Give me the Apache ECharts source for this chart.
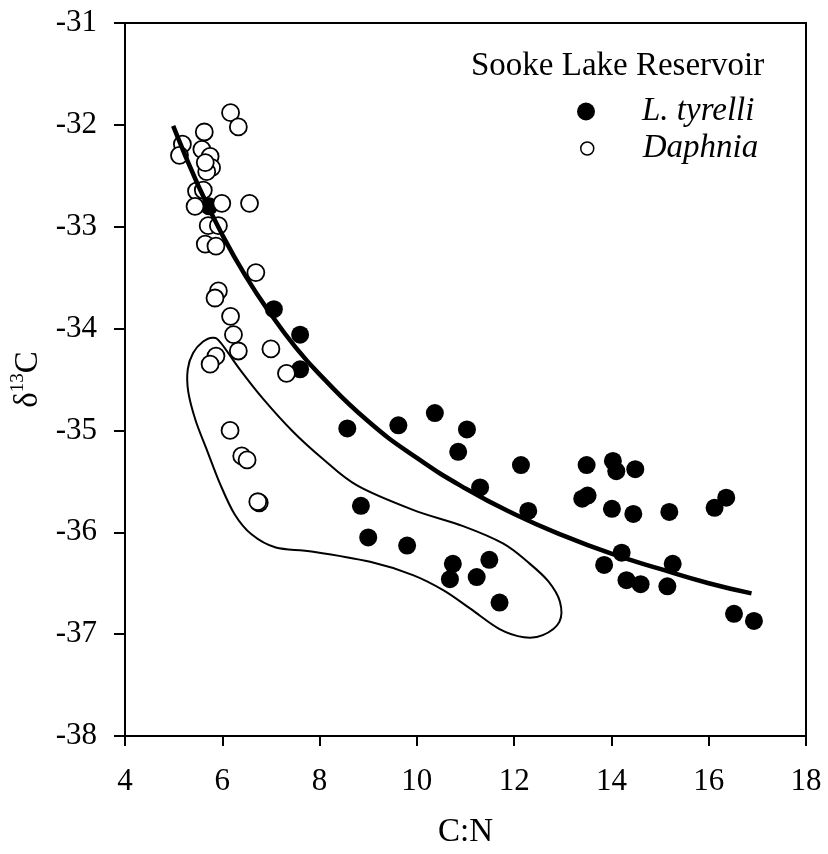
<!DOCTYPE html>
<html>
<head>
<meta charset="utf-8">
<script src="https://cdn.jsdelivr.net/npm/echarts@6/dist/echarts.min.js"></script>
<style>
html,body{margin:0;padding:0;background:#fff;}
#chart{width:828px;height:854px;}
</style>
</head>
<body>
<div id="chart"></div>
<script>
// L. tyrelli (filled circles): [C:N, d13C]
const tyrelli = [
  [5.73,-32.80],[7.06,-33.81],[7.60,-34.06],[7.60,-34.40],[8.57,-34.98],
  [9.62,-34.95],[8.85,-35.74],[9.00,-36.05],[10.37,-34.83],[11.03,-34.99],
  [10.85,-35.21],[12.14,-35.34],[11.30,-35.56],[12.29,-35.79],[9.80,-36.13],
  [10.74,-36.31],[11.49,-36.27],[10.68,-36.46],[11.23,-36.44],[11.70,-36.69],
  [13.49,-35.34],[14.03,-35.30],[14.10,-35.40],[14.49,-35.38],[13.40,-35.67],
  [13.51,-35.64],[14.01,-35.77],[14.45,-35.82],[15.19,-35.80],[16.12,-35.76],
  [16.36,-35.66],[14.21,-36.20],[13.85,-36.32],[15.26,-36.31],[14.31,-36.47],
  [14.60,-36.51],[15.15,-36.53],[16.52,-36.80],[16.93,-36.87]
];
// Daphnia (open circles)
const daphnia = [
  [6.17,-31.88],[6.33,-32.02],[5.63,-32.07],[5.18,-32.19],[5.12,-32.30],
  [5.58,-32.24],[5.75,-32.31],[5.78,-32.42],[5.68,-32.46],[5.65,-32.37],
  [5.47,-32.65],[5.61,-32.64],[5.44,-32.80],[5.99,-32.77],[6.56,-32.77],
  [5.71,-32.99],[5.92,-32.99],[5.65,-33.17],[5.87,-33.19],[6.69,-33.45],
  [5.92,-33.63],[5.85,-33.70],[6.17,-33.88],[6.23,-34.06],[7.00,-34.20],
  [6.33,-34.22],[5.87,-34.27],[5.75,-34.35],[7.32,-34.44],[6.16,-35.00],
  [6.40,-35.25],[6.51,-35.29],[6.76,-35.71],[6.73,-35.70]
];
// fitted curve
const fitCurve = [
  [4.99,-32.01],[5.5,-32.59],[6.0,-33.08],[6.5,-33.50],[7.0,-33.86],[7.5,-34.18],
  [8.0,-34.45],[9.0,-34.91],[10.0,-35.27],[11.0,-35.57],[12.0,-35.82],[13.0,-36.03],
  [14.0,-36.21],[15.0,-36.36],[16.0,-36.50],[16.88,-36.60]
];
// hand-drawn closed enclosure outline
const outline = [
  [5.60,-34.13],[5.81,-34.09],[5.97,-34.14],[6.36,-34.40],[6.84,-34.69],
  [7.45,-35.01],[8.07,-35.28],[8.77,-35.54],[9.92,-35.78],[10.95,-35.94],
  [11.77,-36.11],[12.30,-36.30],[12.70,-36.48],[12.94,-36.68],[12.93,-36.88],
  [12.59,-37.01],[12.20,-37.03],[11.70,-36.95],[11.10,-36.75],[10.55,-36.57],
  [9.92,-36.42],[9.04,-36.29],[7.87,-36.19],[7.10,-36.15],[6.60,-36.02],
  [6.25,-35.82],[5.95,-35.52],[5.69,-35.20],[5.45,-34.90],[5.30,-34.62],
  [5.29,-34.40],[5.40,-34.24]
];
const xRange = {min: 4, max: 18, interval: 2};
const yRange = {min: -38, max: -31, interval: 1};
const titleText = 'Sooke Lake Reservoir';
const seriesNames = ['L. tyrelli', 'Daphnia'];

const FONT = '"Liberation Serif","Times New Roman",serif';

function closedSplinePath(pts) {
  const n = pts.length;
  let d = 'M' + pts[0][0] + ' ' + pts[0][1];
  for (let i = 0; i < n; i++) {
    const p0 = pts[(i - 1 + n) % n], p1 = pts[i], p2 = pts[(i + 1) % n], p3 = pts[(i + 2) % n];
    const c1x = p1[0] + (p2[0] - p0[0]) / 6, c1y = p1[1] + (p2[1] - p0[1]) / 6;
    const c2x = p2[0] - (p3[0] - p1[0]) / 6, c2y = p2[1] - (p3[1] - p1[1]) / 6;
    d += ' C' + c1x + ' ' + c1y + ' ' + c2x + ' ' + c2y + ' ' + p2[0] + ' ' + p2[1];
  }
  return d + ' Z';
}

const chart = echarts.init(document.getElementById('chart'), null, {renderer: 'canvas'});
chart.setOption({
  animation: false,
  backgroundColor: '#fff',
  title: {
    text: titleText, left: 471, top: 50, padding: 0,
    textStyle: {fontFamily: FONT, fontSize: 33, fontWeight: 'normal', color: '#000'}
  },
  legend: [
    {
      data: [{name: seriesNames[0], icon: 'circle'}],
      left: 577, top: 95, padding: 0, itemWidth: 18, itemHeight: 18,
      selectedMode: false,
      textStyle: {fontFamily: FONT, fontSize: 33, fontStyle: 'italic', color: '#000', padding: [0, 0, 0, 42]}
    },
    {
      data: [{name: seriesNames[1], icon: 'circle'}],
      left: 580, top: 132, padding: 0, itemWidth: 13, itemHeight: 13,
      selectedMode: false,
      itemStyle: {borderWidth: 1.5},
      textStyle: {fontFamily: FONT, fontSize: 33, fontStyle: 'italic', color: '#000', padding: [0, 0, 0, 44]}
    }
  ],
  grid: {left: 125, right: 22, top: 23, bottom: 116, show: true, borderColor: '#000', borderWidth: 2, backgroundColor: 'transparent'},
  xAxis: {
    type: 'value', min: xRange.min, max: xRange.max, interval: xRange.interval,
    name: 'C:N', nameLocation: 'middle', nameGap: 80,
    nameTextStyle: {fontFamily: FONT, fontSize: 33, color: '#000'},
    axisLine: {show: true, lineStyle: {color: '#000', width: 2}},
    axisTick: {show: true, inside: false, length: 10, lineStyle: {color: '#000', width: 2}},
    axisLabel: {margin: 30, fontFamily: FONT, fontSize: 31, color: '#000'},
    splitLine: {show: false}
  },
  yAxis: {
    type: 'value', min: yRange.min, max: yRange.max, interval: yRange.interval,
    name: '{d|δ}{s|13}{d|C}', nameLocation: 'middle', nameGap: 72, nameRotate: 90,
    nameTextStyle: {
      fontFamily: FONT, fontSize: 33, color: '#000',
      rich: {
        d: {fontFamily: FONT, fontSize: 33, color: '#000', verticalAlign: 'bottom', lineHeight: 36},
        s: {fontFamily: FONT, fontSize: 19, color: '#000', verticalAlign: 'top', lineHeight: 36, padding: [0, 0, 13, 0]}
      }
    },
    axisLine: {show: true, lineStyle: {color: '#000', width: 2}},
    axisTick: {show: true, inside: false, length: 11, lineStyle: {color: '#000', width: 2}},
    axisLabel: {margin: 28, fontFamily: FONT, fontSize: 31, color: '#000'},
    splitLine: {show: false}
  },
  series: [
    {
      name: seriesNames[0], type: 'scatter', data: tyrelli, symbol: 'circle', symbolSize: 18,
      itemStyle: {color: '#000', opacity: 1}, z: 2
    },
    {
      name: seriesNames[1], type: 'scatter', data: daphnia, symbol: 'circle', symbolSize: 17,
      itemStyle: {color: '#fff', borderColor: '#000', borderWidth: 1.8, opacity: 1}, z: 3
    },
    {
      name: 'outline', type: 'custom', data: [outline[0]], silent: true, z: 4,
      renderItem: function (params, api) {
        const pts = outline.map(function (p) { return api.coord(p); });
        return {
          type: 'path',
          shape: {pathData: closedSplinePath(pts)},
          style: {fill: 'none', stroke: '#000', lineWidth: 2}
        };
      }
    },
    {
      name: 'fit', type: 'line', data: fitCurve, smooth: true, showSymbol: false, symbol: 'none',
      lineStyle: {color: '#000', width: 4.5}, z: 5, silent: true
    }
  ]
});
</script>
</body>
</html>
